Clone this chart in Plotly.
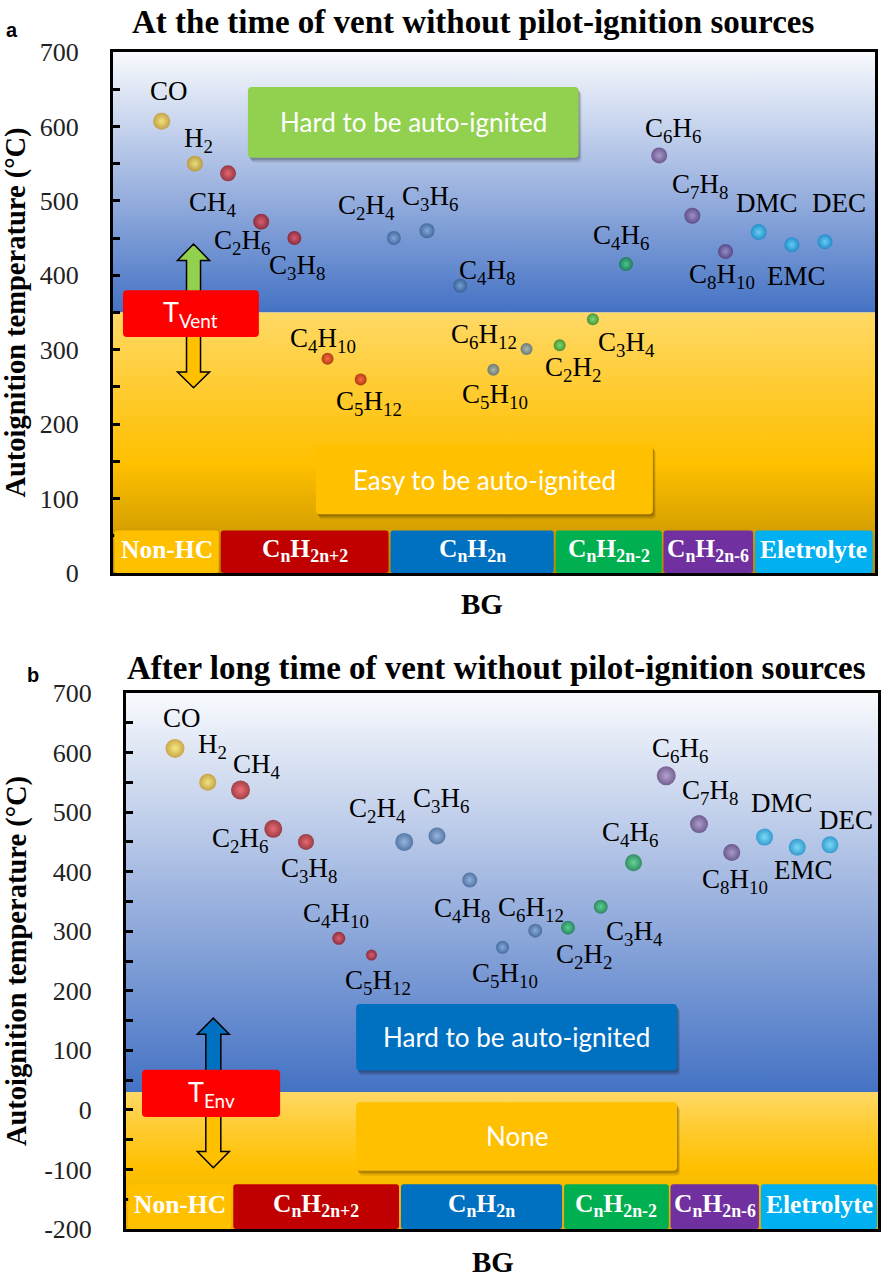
import plotly.graph_objects as go

# ---------------- data ----------------
gases = ["CO", "H2", "CH4", "C2H6", "C3H8", "C4H10", "C5H12",
         "C2H4", "C3H6", "C4H8", "C5H10", "C6H12",
         "C2H2", "C3H4", "C4H6",
         "C6H6", "C7H8", "C8H10",
         "DMC", "EMC", "DEC"]
gas_labels = ["CO", "H<sub>2</sub>", "CH<sub>4</sub>", "C<sub>2</sub>H<sub>6</sub>", "C<sub>3</sub>H<sub>8</sub>",
              "C<sub>4</sub>H<sub>10</sub>", "C<sub>5</sub>H<sub>12</sub>",
              "C<sub>2</sub>H<sub>4</sub>", "C<sub>3</sub>H<sub>6</sub>", "C<sub>4</sub>H<sub>8</sub>",
              "C<sub>5</sub>H<sub>10</sub>", "C<sub>6</sub>H<sub>12</sub>",
              "C<sub>2</sub>H<sub>2</sub>", "C<sub>3</sub>H<sub>4</sub>", "C<sub>4</sub>H<sub>6</sub>",
              "C<sub>6</sub>H<sub>6</sub>", "C<sub>7</sub>H<sub>8</sub>", "C<sub>8</sub>H<sub>10</sub>",
              "DMC", "EMC", "DEC"]
autoignition_temp = [607, 550, 537, 472, 450, 288, 260,
                     450, 460, 386, 273, 301,
                     306, 341, 415,
                     561, 480, 432,
                     458, 441, 445]
gas_group = [0, 0, 1, 1, 1, 1, 1,
             2, 2, 2, 2, 2,
             3, 3, 3,
             4, 4, 4,
             5, 5, 5]
group_names = ["Non-HC", "C<sub>n</sub>H<sub>2n+2</sub>", "C<sub>n</sub>H<sub>2n</sub>",
               "C<sub>n</sub>H<sub>2n-2</sub>", "C<sub>n</sub>H<sub>2n-6</sub>", "Eletrolyte"]
T_vent = 350
T_env = 30
y_ticks_a = [0, 100, 200, 300, 400, 500, 600, 700]
y_ticks_b = [-200, -100, 0, 100, 200, 300, 400, 500, 600, 700]

# ---------------- styles ----------------
group_bar_colors = ["#FFC000", "#C00000", "#0070C0", "#00B050", "#7030A0", "#00B0F0"]
ball_center = ["#FFEA50", "#FF4040", "#86AEDC", "#40E070", "#A688C0", "#60E4FF"]
ball_edge = ["#C08A00", "#8C0000", "#2C5586", "#007530", "#4C2C68", "#0088C4"]
size_a = [17, 16, 16, 16, 14, 12, 12, 14, 15, 14, 12, 12, 12, 12, 14, 16, 16, 15, 16, 15, 15]
size_b = [19, 17, 19, 18, 16, 13, 11, 18, 17, 15, 13, 14, 14, 14, 17, 19, 18, 17, 17, 17, 17]
off_a = [(7, 30), (4, 24), (-15, -31), (-19, -20), (3, -29), (-5, 19), (8, -24),
         (-27, 31), (3, 33), (27, 14), (2, -26), (-43, 13),
         (13, -24), (34, -25), (-5, 27),
         (14, 25), (8, 30), (-4, -25),
         (8, 29), (5, -31), (14, 39)]
off_b = [(7, 30), (5, 36), (17, 24), (-33, -11), (3, -28), (-3, 23), (7, -27),
         (-27, 32), (4, 36), (-8, -30), (3, -28), (-4, 22),
         (16, -28), (34, -26), (-3, 29),
         (14, 26), (11, 32), (3, -28),
         (18, 34), (6, -23), (16, 25)]
group_spans = [(-0.43, 2.72), (2.78, 7.84), (7.90, 12.82), (12.88, 16.08), (16.13, 18.83), (18.89, 22.44)]

W, H = 885, 1281
SERIF = "Liberation Serif"
SANS = "Lato"

PA = dict(xa="x", ya="y", xpx=33.165, ypx=521 / 700, xr=[-0.468, 22.507], yr=[0, 700],
          dom_x=[113 / W, 875 / W], dom_y=[1 - 573 / H, 1 - 52 / H])
PB = dict(xa="x2", ya="y2", xpx=32.75, ypx=536 / 900, xr=[-0.496, 22.466], yr=[-200, 700],
          dom_x=[126 / W, 878 / W], dom_y=[1 - 1229 / H, 1 - 693 / H])

fig = go.Figure()
shapes = []
annotations = []


def rrect(P, x0, x1, y0, y1, color, r=4, shadow=True):
    rx, ry = r / P["xpx"], r / P["ypx"]
    def path(a0, a1, b0, b1):
        return (f"M {a0+rx},{b0} L {a1-rx},{b0} Q {a1},{b0} {a1},{b0+ry} L {a1},{b1-ry} "
                f"Q {a1},{b1} {a1-rx},{b1} L {a0+rx},{b1} Q {a0},{b1} {a0},{b1-ry} "
                f"L {a0},{b0+ry} Q {a0},{b0} {a0+rx},{b0} Z")
    if shadow:
        for k, a in [(5, 0.08), (3.5, 0.12), (2, 0.16)]:
            dx, dy = k * 0.6 / P["xpx"], k / P["ypx"]
            shapes.append(dict(type="path", xref=P["xa"], yref=P["ya"], layer="above",
                               path=path(x0 + dx, x1 + dx, y0 - dy, y1 - dy),
                               fillcolor=f"rgba(0,0,0,{a})", line=dict(width=0)))
    shapes.append(dict(type="path", xref=P["xa"], yref=P["ya"], layer="above",
                       path=path(x0, x1, y0, y1), fillcolor=color, line=dict(width=0)))


def arrow(P, cx, y_base, y_head, y_tip, color, shaft_px=7, head_px=16):
    sw, hw = shaft_px / P["xpx"], head_px / P["xpx"]
    p = (f"M {cx-sw},{y_base} L {cx-sw},{y_head} L {cx-hw},{y_head} L {cx},{y_tip} "
         f"L {cx+hw},{y_head} L {cx+sw},{y_head} L {cx+sw},{y_base} Z")
    shapes.append(dict(type="path", xref=P["xa"], yref=P["ya"], layer="above", path=p,
                       fillcolor=color, line=dict(color="black", width=1.5)))


def bg(P, y0, y1, scale):
    x0, x1 = P["xr"]
    fig.add_trace(go.Scatter(x=[x0, x1, x1, x0, x0], y=[y0, y0, y1, y1, y0], mode="lines",
                             fill="toself", line=dict(width=0), hoverinfo="skip", showlegend=False,
                             xaxis=P["xa"], yaxis=P["ya"],
                             fillgradient=dict(type="vertical", colorscale=scale, start=y0, stop=y1)))


def txt(P, x, y, text, size, color="white", family=SANS, xs=0, ys=0):
    annotations.append(dict(xref=P["xa"], yref=P["ya"], x=x, y=y, text=text, showarrow=False,
                            xanchor="center", yanchor="middle", xshift=xs, yshift=ys,
                            font=dict(family=family, size=size, color=color)))


def panel(P, sizes, offs, y_bar0, y_bar1):
    xs = list(range(1, len(gases) + 1))
    for g in range(len(group_names)):
        idx = [i for i in range(len(gases)) if gas_group[i] == g]
        fig.add_trace(go.Scatter(
            x=[xs[i] for i in idx], y=[autoignition_temp[i] for i in idx], mode="markers",
            text=[gases[i] for i in idx], hovertemplate="%{text}: %{y} °C<extra></extra>",
            marker=dict(size=[sizes[i] for i in idx], color=ball_edge[g], line=dict(width=0),
                        gradient=dict(type="radial", color=ball_center[g])),
            showlegend=False, xaxis=P["xa"], yaxis=P["ya"]))
    for i in range(len(gases)):
        txt(P, xs[i], autoignition_temp[i], gas_labels[i], 27, color="black", family=SERIF,
            xs=offs[i][0], ys=offs[i][1])
    for g, (a, b) in enumerate(group_spans):
        rrect(P, a, b, y_bar0, y_bar1, group_bar_colors[g], r=3, shadow=False)
        txt(P, (a + b) / 2, (y_bar0 + y_bar1) / 2, f"<b>{group_names[g]}</b>", 25.5, family=SERIF, ys=2)


# ---------------- panel a ----------------
bg(PA, T_vent, 700, [[0, "#4472C4"], [0.5, "#A0B6E1"], [1, "#F8FAFD"]])
bg(PA, 0, T_vent, [[0, "#B88A00"], [0.1, "#C79300"], [0.2, "#DCA500"], [0.42, "#FFC000"],
                   [0.72, "#FFCC33"], [1, "#FFD966"]])
panel(PA, size_a, off_a, 0, 57)
rrect(PA, 3.60, 13.57, 558, 653, "#92D050")
txt(PA, 8.585, 605.5, "Hard to be auto-ignited", 26)
rrect(PA, 5.65, 15.81, 79, 172, "#FFC000")
txt(PA, 10.73, 125.5, "Easy to be auto-ignited", 26)
arrow(PA, 1.96, 360, 420, 442, "#92D050")
arrow(PA, 1.96, 330, 270, 249, "#FFC000")
rrect(PA, -0.167, 3.93, 317, 380, "#FF0000", shadow=False)
txt(PA, 1.88, 348.5, "T<sub>Vent</sub>", 27)

# ---------------- panel b ----------------
bg(PB, T_env, 700, [[0, "#4472C4"], [0.5, "#9FB5E0"], [1, "#F8FAFD"]])
bg(PB, -200, T_env, [[0, "#E6AC00"], [0.3, "#F7BA00"], [0.45, "#FFC000"], [0.75, "#FFCC33"], [1, "#FFD966"]])
panel(PB, size_b, off_b, -200, -125)
rrect(PB, 6.53, 16.33, 66, 178, "#0070C0")
txt(PB, 11.43, 122, "Hard to be auto-ignited", 26)
rrect(PB, 6.53, 16.33, -102, 13, "#FFC000")
txt(PB, 11.43, -44.5, "None", 26)
arrow(PB, 2.17, 40, 127, 154, "#0070C0", shaft_px=7.5)
arrow(PB, 2.17, 0, -70, -97, "#FFC000", shaft_px=7.5)
rrect(PB, -0.008, 4.21, -12, 67.5, "#FF0000", shadow=False)
txt(PB, 2.10, 27.75, "T<sub>Env</sub>", 27)

# ---------------- titles ----------------
def paper_txt(px, py, text, size, family=SERIF, color="black"):
    annotations.append(dict(xref="paper", yref="paper", x=px / W, y=1 - py / H, text=text,
                            showarrow=False, xanchor="center", yanchor="middle",
                            font=dict(family=family, size=size, color=color)))

paper_txt(473, 22, "<b>At the time of vent without pilot-ignition sources</b>", 33)
paper_txt(497, 668, "<b>After long time of vent without pilot-ignition sources</b>", 33)
paper_txt(12, 30, "<b>a</b>", 20, family="Liberation Sans")
paper_txt(33, 675, "<b>b</b>", 20, family="Liberation Sans")
paper_txt(482, 604, "<b>BG</b>", 29)
paper_txt(493, 1262, "<b>BG</b>", 29)

axis_common = dict(showgrid=False, zeroline=False, showline=True, linecolor="black", linewidth=3,
                   mirror=True, automargin=False)
ytick_common = dict(ticks="inside", ticklen=7, tickwidth=2.5, tickcolor="black",
                    tickfont=dict(family=SERIF, size=26, color="#222"),
                    minor=dict(dtick=50, ticks="inside", ticklen=7, tickwidth=2.5, tickcolor="black"),
                    ticklabelstandoff=26)

fig.update_layout(
    width=W, height=H, margin=dict(l=0, r=0, t=0, b=0, autoexpand=False),
    paper_bgcolor="white", plot_bgcolor="white", showlegend=False,
    xaxis=dict(domain=PA["dom_x"], range=PA["xr"], showticklabels=False, ticks="", anchor="y",
               **axis_common),
    yaxis=dict(domain=PA["dom_y"], range=PA["yr"], tickvals=y_ticks_a,
               ticktext=[str(v) for v in y_ticks_a], anchor="x",
               title=dict(text="<b>Autoignition temperature (°C)</b>",
                          font=dict(family=SERIF, size=28.5, color="black"), standoff=10),
               **axis_common, **ytick_common),
    xaxis2=dict(domain=PB["dom_x"], range=PB["xr"], showticklabels=False, ticks="", anchor="y2",
                **axis_common),
    yaxis2=dict(domain=PB["dom_y"], range=PB["yr"], tickvals=y_ticks_b,
                ticktext=[str(v) for v in y_ticks_b], anchor="x2",
                title=dict(text="<b>Autoignition temperature (°C)</b>",
                           font=dict(family=SERIF, size=28.5, color="black"), standoff=10),
                **axis_common, **ytick_common),
    shapes=shapes, annotations=annotations,
)

fig.write_html("out.html", config={"displayModeBar": False},
               post_script="document.body.style.margin='0';document.body.style.padding='0';")
